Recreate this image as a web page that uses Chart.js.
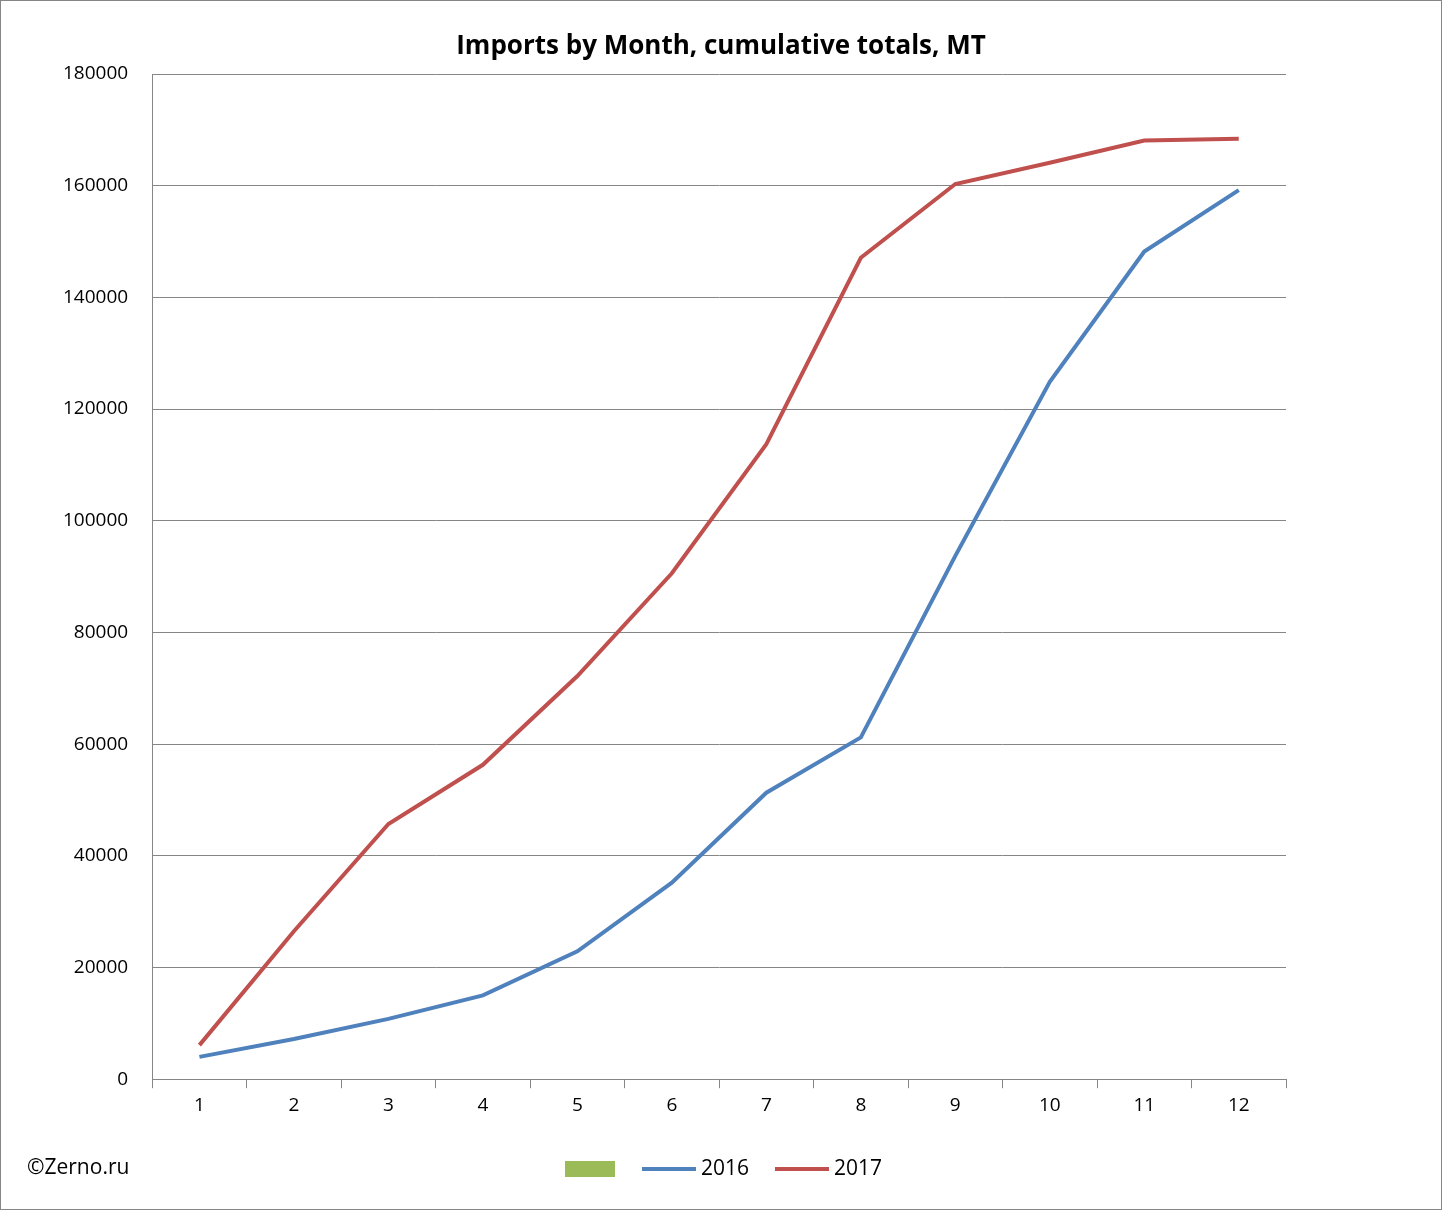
<!DOCTYPE html>
<html><head><meta charset="utf-8">
<script src="https://cdn.jsdelivr.net/npm/chart.js@4/dist/chart.umd.min.js"></script>
<style>
html,body{margin:0;padding:0;background:#fff;}
#wrap{position:absolute;left:0;top:0;width:1440px;height:1208px;border:1px solid #868686;}
</style></head>
<body><div id="wrap"><canvas id="c" width="1440" height="1208"></canvas></div>
<script>
const months = ['1','2','3','4','5','6','7','8','9','10','11','12'];
const imports2016 = [4000,7200,10800,15000,22900,35200,51300,61200,93700,124900,148200,159200];
const imports2017 = [6100,26500,45700,56300,72200,90600,113700,147100,160300,164100,168100,168400];
const FONT = '"Open Sans", "Liberation Sans", sans-serif';

const deco = {id:'deco', afterDraw(chart){
  const ctx = chart.ctx; ctx.save();
  ctx.fillStyle = '#000'; ctx.textBaseline='middle';
  ctx.font = 'bold 26px ' + FONT; ctx.textAlign='center';
  ctx.fillText('Imports by Month, cumulative totals, MT', 720, 46);
  ctx.textAlign='left';
  ctx.font = '21px ' + FONT;
  ctx.fillText('©Zerno.ru', 26, 1167);
  // legend
  const ds = chart.data.datasets;
  ctx.fillStyle = ds[0].backgroundColor; ctx.fillRect(564, 1160, 50, 16);
  ctx.lineWidth = 4;
  [[1,641,700],[2,774,833]].forEach(([i,x,tx])=>{
    ctx.strokeStyle = ds[i].borderColor; ctx.beginPath(); ctx.moveTo(x,1168); ctx.lineTo(x+54,1168); ctx.stroke();
    ctx.fillStyle='#000'; ctx.fillText(ds[i].label, tx, 1168);
  });
  ctx.restore();
}};

new Chart(document.getElementById('c'), {
  type: 'line',
  data: { labels: months, datasets: [
    {type:'bar', label:'', data:[], backgroundColor:'#9BBB59', borderColor:'#9BBB59'},
    {label:'2016', data: imports2016, borderColor:'#4F81BD', backgroundColor:'#4F81BD', borderWidth:4, pointRadius:0, tension:0},
    {label:'2017', data: imports2017, borderColor:'#C0504D', backgroundColor:'#C0504D', borderWidth:4, pointRadius:0, tension:0}
  ]},
  options: {
    responsive:false, animation:false,
    layout:{padding:{left:38, right:155, top:73, bottom:86}},
    plugins:{ title:{display:false}, legend:{display:false}, tooltip:{enabled:false} },
    scales:{
      x:{offset:true, grid:{drawOnChartArea:false, drawTicks:true, tickLength:9, color:'#868686', offset:true},
         border:{color:'#868686'}, ticks:{color:'#000', font:{family:FONT, size:19}, padding:6}},
      y:{min:0, max:180000, ticks:{stepSize:20000, color:'#000', font:{family:FONT, size:19}, padding:24,
           callback:v=>String(v)},
         grid:{color:'#868686', drawTicks:false}, border:{color:'#868686'}}
    }
  },
  plugins:[deco]
});
</script></body></html>
